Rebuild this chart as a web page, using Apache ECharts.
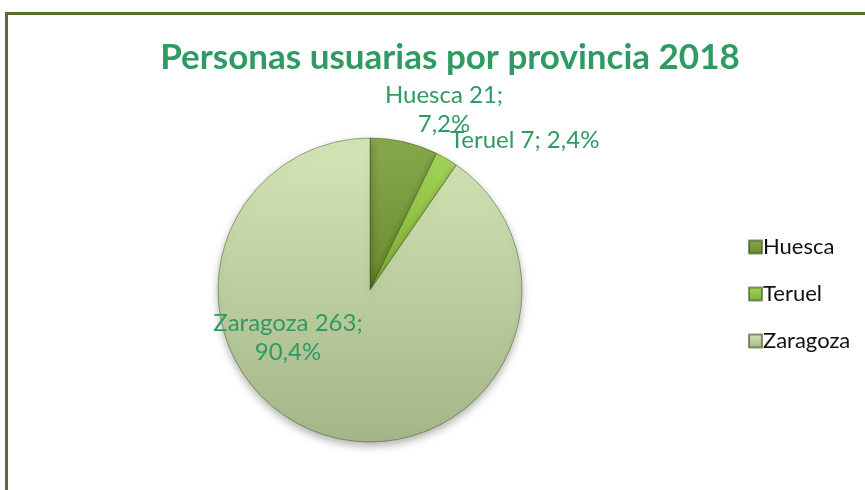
<!DOCTYPE html>
<html>
<head>
<meta charset="utf-8">
<script src="https://cdn.jsdelivr.net/npm/echarts@6/dist/echarts.min.js"></script>
<style>
  html, body { margin: 0; padding: 0; background: #fff; }
  .warp {
    position: relative;
    width: 865px;
    height: 490px;
    overflow: hidden;
  }
  .frame {
    position: absolute;
    left: 5px;
    top: 12px;
    width: 900px;
    height: 520px;
    border: 3px solid #5b6f2c;
    box-sizing: border-box;
  }
  #chart {
    position: absolute;
    left: 0;
    top: 0;
    width: 865px;
    height: 490px;
  }
</style>
</head>
<body>
<div class="warp">
  <div class="frame"></div>
  <div id="chart"></div>
</div>
<script>
// datos
const provincias = ['Huesca', 'Teruel', 'Zaragoza']
const usuarios = [21, 7, 263]
const porcentajes = ['7,2%', '2,4%', '90,4%']

// colores de cada provincia (arriba / abajo)
const coloresArriba = ['#87a94b', '#a3d457', '#d4e6b6']
const coloresAbajo = ['#6a8b2d', '#80b233', '#a4b587']

// posicion de las etiquetas
const etiquetas = [
  { x: 444, y: 110, align: 'center' },
  { x: 450, y: 140, align: 'left' },
  { x: 288, y: 338, align: 'center' }
]

const myChart = echarts.init(document.getElementById('chart'))

const seriesData = provincias.map((name, i) => {
  return {
    name: name,
    value: usuarios[i],
    itemStyle: {
      color: new echarts.graphic.LinearGradient(0, 0, 0, 1, [
        { offset: 0, color: coloresArriba[i] },
        { offset: 1, color: coloresAbajo[i] }
      ])
    }
  }
})

myChart.setOption({
  animation: false,
  title: {
    text: 'Personas usuarias por provincia 2018',
    left: 445,
    top: 35,
    textAlign: 'center',
    textStyle: {
      fontFamily: 'Lato',
      fontWeight: 'bold',
      fontSize: 35,
      color: '#2f9a62'
    }
  },
  legend: {
    orient: 'vertical',
    left: 743,
    top: 231,
    icon: 'rect',
    itemWidth: 13,
    itemHeight: 13,
    itemGap: 25,
    selectedMode: false,
    textStyle: {
      fontFamily: 'Lato',
      fontSize: 22,
      color: '#111',
      padding: [0, 0, 0, -4]
    },
    data: provincias
  },
  series: [{
    type: 'pie',
    center: [370, 290],
    radius: 152,
    startAngle: 90,
    clockwise: true,
    data: seriesData,
    itemStyle: {
      borderColor: 'rgba(60, 80, 30, 0.6)',
      borderWidth: 0.8,
      shadowBlur: 8,
      shadowOffsetY: 4,
      shadowColor: 'rgba(0, 0, 0, 0.3)'
    },
    label: {
      show: true,
      position: 'outside',
      fontFamily: 'Lato',
      fontSize: 24,
      lineHeight: 29,
      color: '#2f9a62',
      formatter: function(p) {
        const s = p.name + ' ' + p.value + ';'
        if (p.dataIndex === 1) {
          return s + ' ' + porcentajes[p.dataIndex]
        }
        return s + '\n' + porcentajes[p.dataIndex]
      }
    },
    labelLine: { show: false },
    labelLayout: function(params) {
      const e = etiquetas[params.dataIndex]
      return {
        x: e.x,
        y: e.y,
        align: e.align,
        verticalAlign: 'middle'
      }
    },
    emphasis: { disabled: true }
  }]
})
</script>
</body>
</html>
